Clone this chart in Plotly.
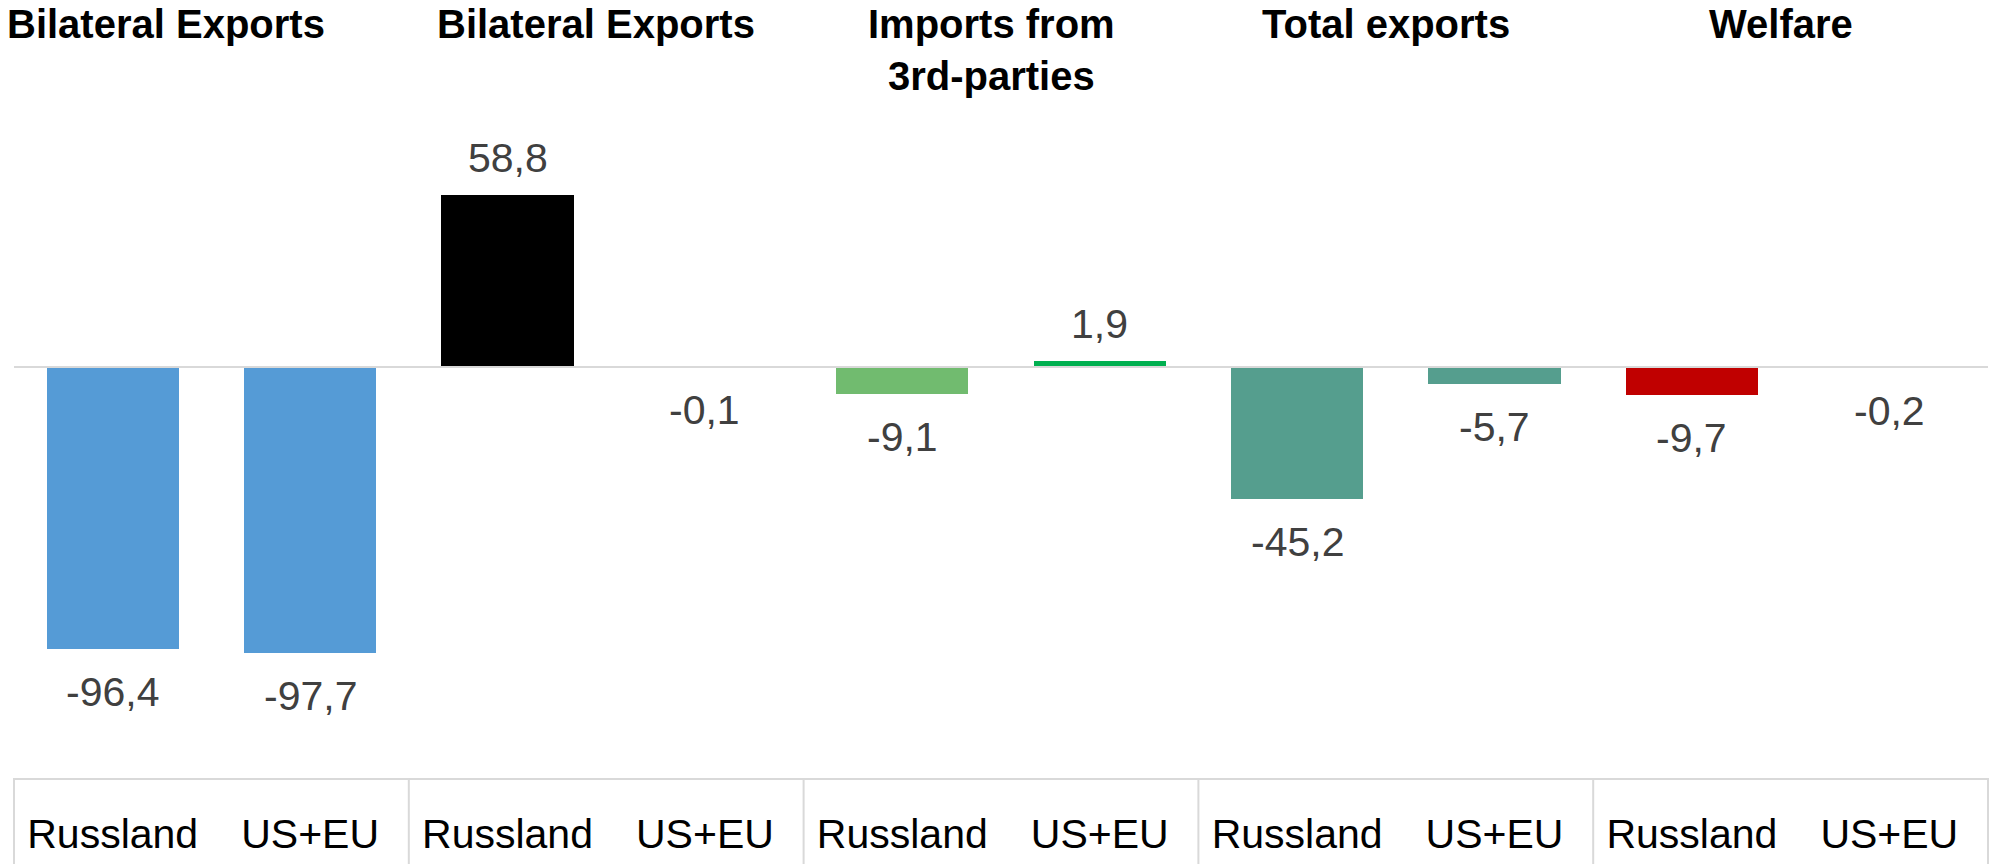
import plotly.graph_objects as go

# ---- data ----
groups = ["Bilateral Exports", "Bilateral Exports", "Imports from<br>3rd-parties",
          "Total exports", "Welfare"]
categories = ["Russland", "US+EU"] * 5
values = [-96.4, -97.7, 58.8, -0.1, -9.1, 1.9, -45.2, -5.7, -9.7, -0.2]
colors = ["#559BD6", "#559BD6", "#000000", "#000000", "#71BB6F", "#00B050",
          "#559E8E", "#559E8E", "#C00000", "#C00000"]
labels = [f"{v:.1f}".replace(".", ",") for v in values]

FONT = "Liberation Sans"
x = list(range(len(values)))

fig = go.Figure()
fig.add_trace(go.Bar(
    x=x, y=values, width=0.67,
    marker=dict(color=colors, line=dict(width=0)),
    hoverinfo="skip",
))

# data labels
for xi, v, t in zip(x, values, labels):
    fig.add_annotation(
        x=xi, y=v, text=t, showarrow=False,
        xref="x", yref="y", yanchor="middle",
        yshift=37 if v > 0 else -43,
        font=dict(family=FONT, size=41, color="#404040"),
    )

# group titles
for gi, g in enumerate(groups):
    if gi == 0:
        fig.add_annotation(x=0, xref="paper", xanchor="left", xshift=-9,
                           y=1, yref="paper", yanchor="top", text=g,
                           showarrow=False, align="center",
                           font=dict(family=FONT, size=40, color="#000000", weight="bold"))
    else:
        fig.add_annotation(x=2 * gi + 0.5, xref="x", xanchor="center", xshift=-10,
                           y=1, yref="paper", yanchor="top", text=g,
                           showarrow=False, align="center",
                           font=dict(family=FONT, size=40, color="#000000", weight="bold"))

# zero line drawn above the bars
fig.add_shape(type="line", xref="paper", yref="y", x0=0, x1=1, y0=0, y1=0,
              layer="above", line=dict(color="#D9D9D9", width=2))

# table separators below the axis
for k in range(6):
    fig.add_shape(type="line", xref="paper", yref="paper",
                  x0=k / 5, x1=k / 5, y0=0, y1=-86 / 778,
                  line=dict(color="#D9D9D9", width=2))

fig.update_layout(
    width=1990, height=864,
    margin=dict(l=14, r=2, t=0, b=86),
    paper_bgcolor="white", plot_bgcolor="white",
    showlegend=False, bargap=0,
    font=dict(family=FONT),
)
fig.update_xaxes(
    range=[-0.5, 9.5], tickvals=x, ticktext=categories,
    tickfont=dict(family=FONT, size=41, color="#000000"),
    showgrid=False, zeroline=False,
    showline=True, linecolor="#D9D9D9", linewidth=2,
    ticks="", ticklabelstandoff=19,
)
fig.update_yaxes(
    range=[-140.3, 125.3], visible=True, showticklabels=False,
    showgrid=False, zeroline=False,
    showline=False, ticks="",
)

fig.write_html("out.html")
